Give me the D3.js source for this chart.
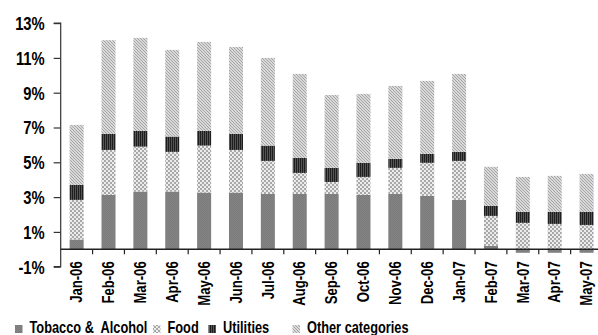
<!DOCTYPE html>
<html><head><meta charset="utf-8">
<script src="https://cdn.jsdelivr.net/npm/d3@7"></script>
<style>
html,body{margin:0;padding:0;background:#fff;}
svg{display:block;}
text{font-family:"Liberation Sans Narrow","Arial Narrow","Liberation Sans",Arial,sans-serif;font-weight:bold;fill:#000;}
</style></head>
<body>
<svg id="c" width="598" height="335"></svg>
<script>
const categories = ["Jan-06","Feb-06","Mar-06","Apr-06","May-06","Jun-06","Jul-06","Aug-06","Sep-06","Oct-06","Nov-06","Dec-06","Jan-07","Feb-07","Mar-07","Apr-07","May-07"];
const tobacco   = [0.56,3.13,3.32,3.32,3.26,3.26,3.18,3.18,3.18,3.13,3.18,3.07,2.84,0.20,-0.20,-0.20,-0.20];
const food      = [2.28,2.58,2.58,2.28,2.70,2.45,1.90,1.21,0.69,1.03,1.50,1.90,2.24,1.72,1.52,1.46,1.40];
const utilities = [0.86,0.92,0.90,0.88,0.84,0.92,0.88,0.86,0.81,0.81,0.52,0.51,0.52,0.57,0.63,0.69,0.75];
const other     = [3.45,5.39,5.35,4.98,5.12,5.00,5.04,4.83,4.19,3.96,4.19,4.20,4.48,2.25,2.01,2.07,2.18];
const seriesNames = ["Tobacco &  Alcohol","Food","Utilities","Other categories"];
const yTicks = [-1,1,3,5,7,9,11,13];

const svg = d3.select("#c");
const defs = svg.append("defs");
function pat(id, w, h, bg, rects){
  const p = defs.append("pattern").attr("id",id).attr("patternUnits","userSpaceOnUse").attr("width",w).attr("height",h);
  p.append("rect").attr("width",w).attr("height",h).attr("fill",bg);
  rects.forEach(r=>p.append("rect").attr("x",r[0]).attr("y",r[1]).attr("width",r[2]).attr("height",r[3]).attr("fill",r[4]));
}
pat("pTob",2,2,"#858585",[[0,0,1,1,"#7a7a7a"],[1,1,1,1,"#7a7a7a"]]);
pat("pFood",4,4,"#ececec",[[0,0,2,2,"#a8a8a8"],[2,2,2,2,"#a8a8a8"]]);
pat("pUtil",2,2,"#555555",[[0,0,1,2,"#1e1e1e"]]);
pat("pOther",3,3,"#d8d8d8",[[0,0,1,1,"#a6a6a6"],[1,1,1,1,"#a6a6a6"],[2,2,1,1,"#a6a6a6"]]);
const fills = ["url(#pTob)","url(#pFood)","url(#pUtil)","url(#pOther)"];

const x = d3.scaleBand().domain(categories).range([60.7,602.5]).paddingInner(0.56).paddingOuter(0.28);
const y = d3.scaleLinear().domain([-1,13]).range([266.7,23.1]);

const rows = categories.map((c,i)=>({cat:c, tob:tobacco[i], food:food[i], util:utilities[i], other:other[i]}));
const stack = d3.stack().keys(["tob","food","util","other"]).offset(d3.stackOffsetDiverging);
const layers = stack(rows);

svg.append("g").selectAll("g").data(layers).join("g")
  .attr("fill",(d,i)=>fills[i])
  .selectAll("rect").data(d=>d).join("rect")
  .attr("x",d=>x(d.data.cat))
  .attr("width",x.bandwidth())
  .attr("y",d=>y(Math.max(d[0],d[1])))
  .attr("height",d=>Math.abs(y(d[0])-y(d[1])));

// y axis
const yAxis = d3.axisLeft(y).tickValues(yTicks).tickFormat(d=>d+"%").tickSize(7).tickPadding(9);
const gy = svg.append("g").attr("transform","translate(60.7,0)").call(yAxis);
gy.select(".domain").attr("stroke","#333").attr("stroke-width",1.2).attr("d","M-7,"+y(13)+"H0V"+y(-1)+"H-7");
gy.selectAll(".tick line").attr("stroke","#333").attr("stroke-width",1.2);
gy.selectAll(".tick text").attr("font-family",null).attr("font-size",null).style("font-size","18px").attr("dy","0.36em");

// x axis at zero
const y0 = y(0);
const gx = svg.append("g");
gx.append("line").attr("x1",60.7).attr("x2",598).attr("y1",y0).attr("y2",y0).attr("stroke","#222").attr("stroke-width",1.4);
const step = x.step();
gx.selectAll("line.tk").data(categories.slice(1)).join("line").attr("class","tk")
  .attr("x1",d=>x(d)+x.bandwidth()/2-step/2).attr("x2",d=>x(d)+x.bandwidth()/2-step/2)
  .attr("y1",y0).attr("y2",y0+5).attr("stroke","#222").attr("stroke-width",1.2);
gx.selectAll("text").data(categories).join("text")
  .attr("transform",d=>`translate(${x(d)+x.bandwidth()/2},${y0+12}) rotate(-90)`)
  .attr("text-anchor","end").attr("dy","0.36em")
  .style("font-size","16px")
  .text(d=>d);

// condense axis text (narrow font substitute)
svg.selectAll("text").each(function(){
  const L = this.getComputedTextLength();
  d3.select(this).attr("textLength", L*0.82).attr("lengthAdjust","spacingAndGlyphs");
});

// legend (condensed with a horizontal scale)
const legX = [15,153,208.5,292.5];
const leg = svg.append("g");
seriesNames.forEach((n,i)=>{
  leg.append("rect").attr("x",legX[i]).attr("y",325).attr("width",7.5).attr("height",8).attr("fill",fills[i]);
  leg.append("text").attr("transform",`translate(${legX[i]+14.5},333) scale(0.8,1)`)
    .style("font-size","16px").style("white-space","pre").text(n);
});
</script>
</body></html>
